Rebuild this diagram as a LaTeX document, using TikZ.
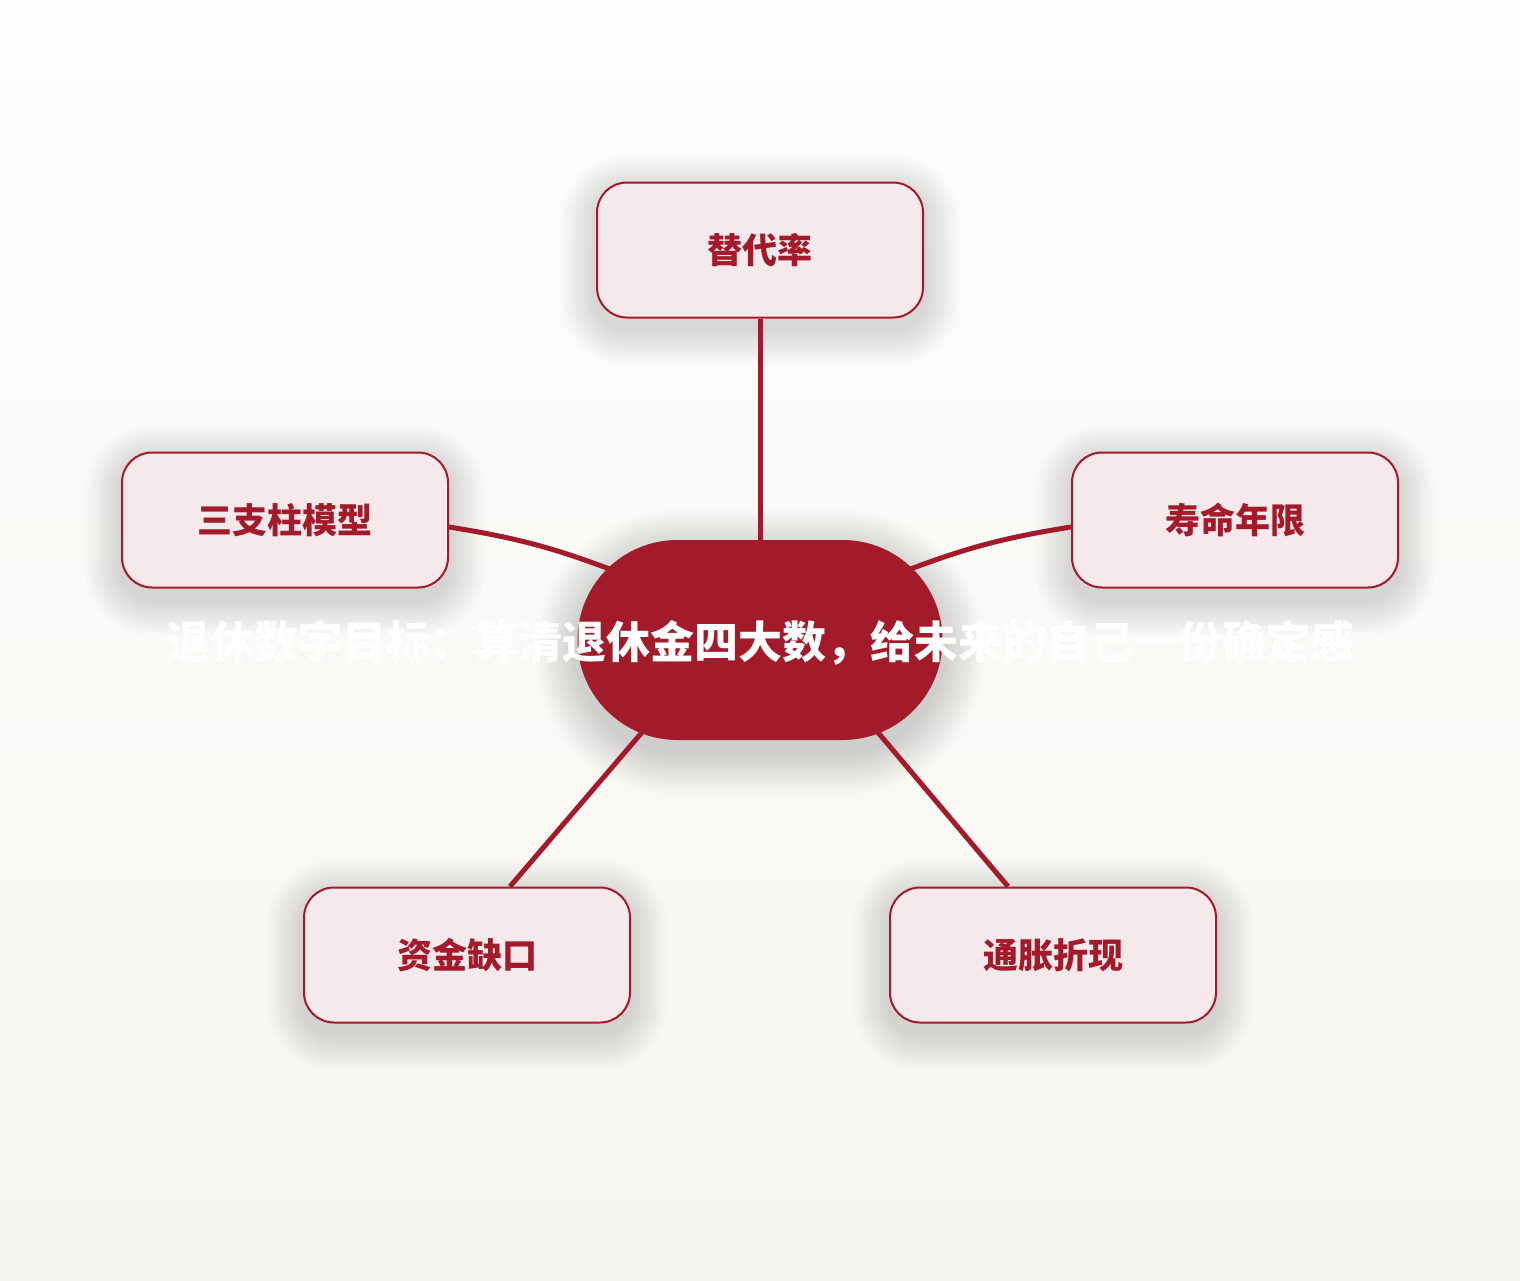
\documentclass[tikz,border=0pt]{standalone}
\usepackage{fontspec}
\newfontfamily\cjk{Noto Sans CJK SC}
\usepackage{xcolor}
\definecolor{deepred}{HTML}{A31A2A}
\definecolor{blush}{HTML}{F5E9EB}
\definecolor{bgtop}{HTML}{FDFDFC}
\definecolor{bgbottom}{HTML}{F7F5F1}
\pgfdeclarelayer{back}
\pgfdeclarelayer{lines}
\pgfsetlayers{back,lines,main}
\tikzset{leaf/.style={rectangle, rounded corners=30pt, draw=deepred, line width=2pt, fill=blush, minimum width=326pt, minimum height=135pt, text=deepred, font={\cjk\bfseries\fontsize{35}{40}\selectfont}},
         hub/.style={rectangle, rounded corners=100pt, fill=deepred, minimum width=365pt, minimum height=200pt, inner sep=0pt},
         haze/.style={black, opacity=0.012},
         link/.style={draw=deepred, line width=5pt}}

\begin{document}
\begin{tikzpicture}[x=1pt, y=-1pt]

                 \useasboundingbox (0,0) rectangle (1520,1280);

                 \node[hub] (goal) at (760,640) {};
                 \node[text=white, font={\cjk\bfseries\fontsize{44}{50}\selectfont}] (goaltext) at (760,643) {退休数字目标：算清退休金四大数，给未来的自己一份确定感};

                 \node[leaf] (rate) at (760,250) {替代率};
                 \node[leaf] (pillar) at (285,520) {三支柱模型};
                 \node[leaf] (life) at (1235,520) {寿命年限};
                 \node[leaf] (gap) at (467,955) {资金缺口};
                 \node[leaf] (infl) at (1053,955) {通胀折现};

                 \begin{pgfonlayer}{back}
                 \shade[top color=bgtop, bottom color=bgbottom] (0,0) rectangle (1520,1280);
                 \foreach \n in {rate,pillar,life,gap,infl}
                   \foreach \r in {3,6,...,36}
                     \fill[haze, rounded corners={(30+\r)*1pt}] ([shift={(-\r,-\r+10)}]\n.north west) rectangle ([shift={(\r,\r+10)}]\n.south east);
                 \foreach \r in {3,6,...,42}
                   \fill[haze, rounded corners={(100+\r)*1pt}] ([shift={(-\r,-\r+12)}]goal.north west) rectangle ([shift={(\r,\r+12)}]goal.south east);
                 \end{pgfonlayer}

                 \begin{pgfonlayer}{lines}
                 \draw[link] (goal.north) -- (rate.south);
                 \draw[link] ([shift={(-140,-67)}]goal.center) to[bend right=6] ([yshift=-7pt]pillar.east);
                 \draw[link] ([shift={(140,-67)}]goal.center) to[bend left=6] ([yshift=-7pt]life.west);
                 \draw[link] ([shift={(-110,83)}]goal.center) -- ([xshift=43pt]gap.north);
                 \draw[link] ([shift={(110,83)}]goal.center) -- ([xshift=-45pt]infl.north);
                 \end{pgfonlayer}

\end{tikzpicture}
\end{document}
